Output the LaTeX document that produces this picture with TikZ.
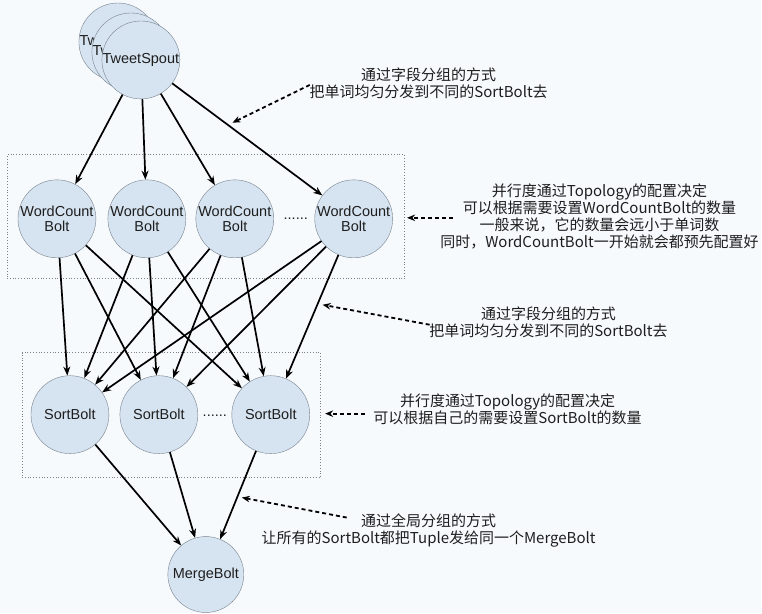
\documentclass[tikz,border=0pt]{standalone}
\usepackage{fontspec}
\setmainfont{Liberation Sans}
\newfontfamily\cjk{Noto Sans CJK SC}
\usepackage{tikz}
\usetikzlibrary{arrows,arrows.meta,shapes,positioning}
\definecolor{boltfill}{RGB}{214,227,240}
\definecolor{boltline}{RGB}{120,130,142}
\definecolor{bgtint}{RGB}{246,250,252}
\definecolor{txtdark}{RGB}{30,30,30}
\tikzstyle{bolt} = [circle, draw=boltline, fill=boltfill, minimum size=78pt, inner sep=0pt, align=center, text=txtdark, font=\fontsize{14.5}{16}\selectfont]
\tikzstyle{arrow} = [line width=1.7pt,-{Stealth[length=9pt,width=7pt]}]
\tikzstyle{notearrow} = [line width=1.8pt,-{Stealth[length=8pt,width=6.5pt]},dash pattern=on 4pt off 3pt]
\tikzstyle{note} = [align=center, text=txtdark, font=\cjk\fontsize{15}{17}\selectfont]
\tikzstyle{group} = [rectangle, draw=gray, dotted, line width=0.8pt]

\begin{document}
\begin{tikzpicture}[x=1pt, y=-1pt]
    \fill[bgtint] (0,0) rectangle (762,614);

    % Groups
    \node[group, minimum width=398pt, minimum height=124pt] (wcbox) at (206,217) {};
    \node[group, minimum width=299pt, minimum height=125pt] (sortbox) at (171.5,415.5) {};

    % Spout (stacked)
    \node[bolt] (spout3) at (118,42) {TweetSpout};
    \node[bolt] (spout2) at (131,52) {TweetSpout};
    \node[bolt] (spout) at (141,60) {TweetSpout};

    % WordCount bolts
    \node[bolt] (wc1) at (57,219) {WordCount\\Bolt};
    \node[bolt] (wc2) at (147,219) {WordCount\\Bolt};
    \node[bolt] (wc3) at (235,219) {WordCount\\Bolt};
    \node[bolt] (wc4) at (354,219) {WordCount\\Bolt};
    \node[text=txtdark, font=\fontsize{14.5}{16}\selectfont] (wcdots) at (296,219) {......};

    % Sort bolts
    \node[bolt] (s1) at (70,415) {SortBolt};
    \node[bolt] (s2) at (159,415) {SortBolt};
    \node[bolt] (s3) at (271,415) {SortBolt};
    \node[text=txtdark, font=\fontsize{14.5}{16}\selectfont] (sdots) at (215,416) {......};

    % Merge bolt
    \node[bolt, minimum size=76pt] (merge) at (206,575) {MergeBolt};

    % Spout -> WordCount
    \draw[arrow] (spout) -- (wc1);
    \draw[arrow] (spout) -- (wc2);
    \draw[arrow] (spout) -- (wc3);
    \draw[arrow] (spout) -- coordinate[pos=0.371] (e1) (wc4);

    % WordCount -> Sort
    \foreach \w in {wc1,wc2,wc3}
        \foreach \s in {s1,s2,s3}
            \draw[arrow] (\w) -- (\s);
    \draw[arrow] (wc4) -- (s1);
    \draw[arrow] (wc4) -- (s2);
    \draw[arrow] (wc4) -- coordinate[pos=0.396] (e3) (s3);

    % Sort -> Merge
    \draw[arrow] (s1) -- (merge);
    \draw[arrow] (s2) -- (merge);
    \draw[arrow] (s3) -- coordinate[pos=0.519] (e5) (merge);

    % Notes
    \node[note] (note1) at (429,83) {通过字段分组的方式\\把单词均匀分发到不同的SortBolt去};
    \node[note] (note2) at (600,217) {并行度通过Topology的配置决定\\可以根据需要设置WordCountBolt的数量\\一般来说，它的数量会远小于单词数\\同时，WordCountBolt一开始就会都预先配置好};
    \node[note] (note3) at (549,323) {通过字段分组的方式\\把单词均匀分发到不同的SortBolt去};
    \node[note] (note4) at (508,410) {并行度通过Topology的配置决定\\可以根据自己的需要设置SortBolt的数量};
    \node[note] (note5) at (429,531) {通过全局分组的方式\\让所有的SortBolt都把Tuple发给同一个MergeBolt};

    \coordinate (t1) at (310,85);
    \coordinate (t2) at (453,218);
    \coordinate (t3) at (430,325);
    \coordinate (t4) at (365,414);
    \coordinate (t5) at (347,518);

    \draw[notearrow, shorten >=5pt] (t1) -- (e1);
    \draw[notearrow, shorten >=2pt] (t2) -- (wcbox.east |- t2);
    \draw[notearrow, shorten >=5pt] (t3) -- (e3);
    \draw[notearrow, shorten >=4pt] (t4) -- (sortbox.east |- t4);
    \draw[notearrow, shorten >=4.5pt] (t5) -- (e5);
\end{tikzpicture}
\end{document}
